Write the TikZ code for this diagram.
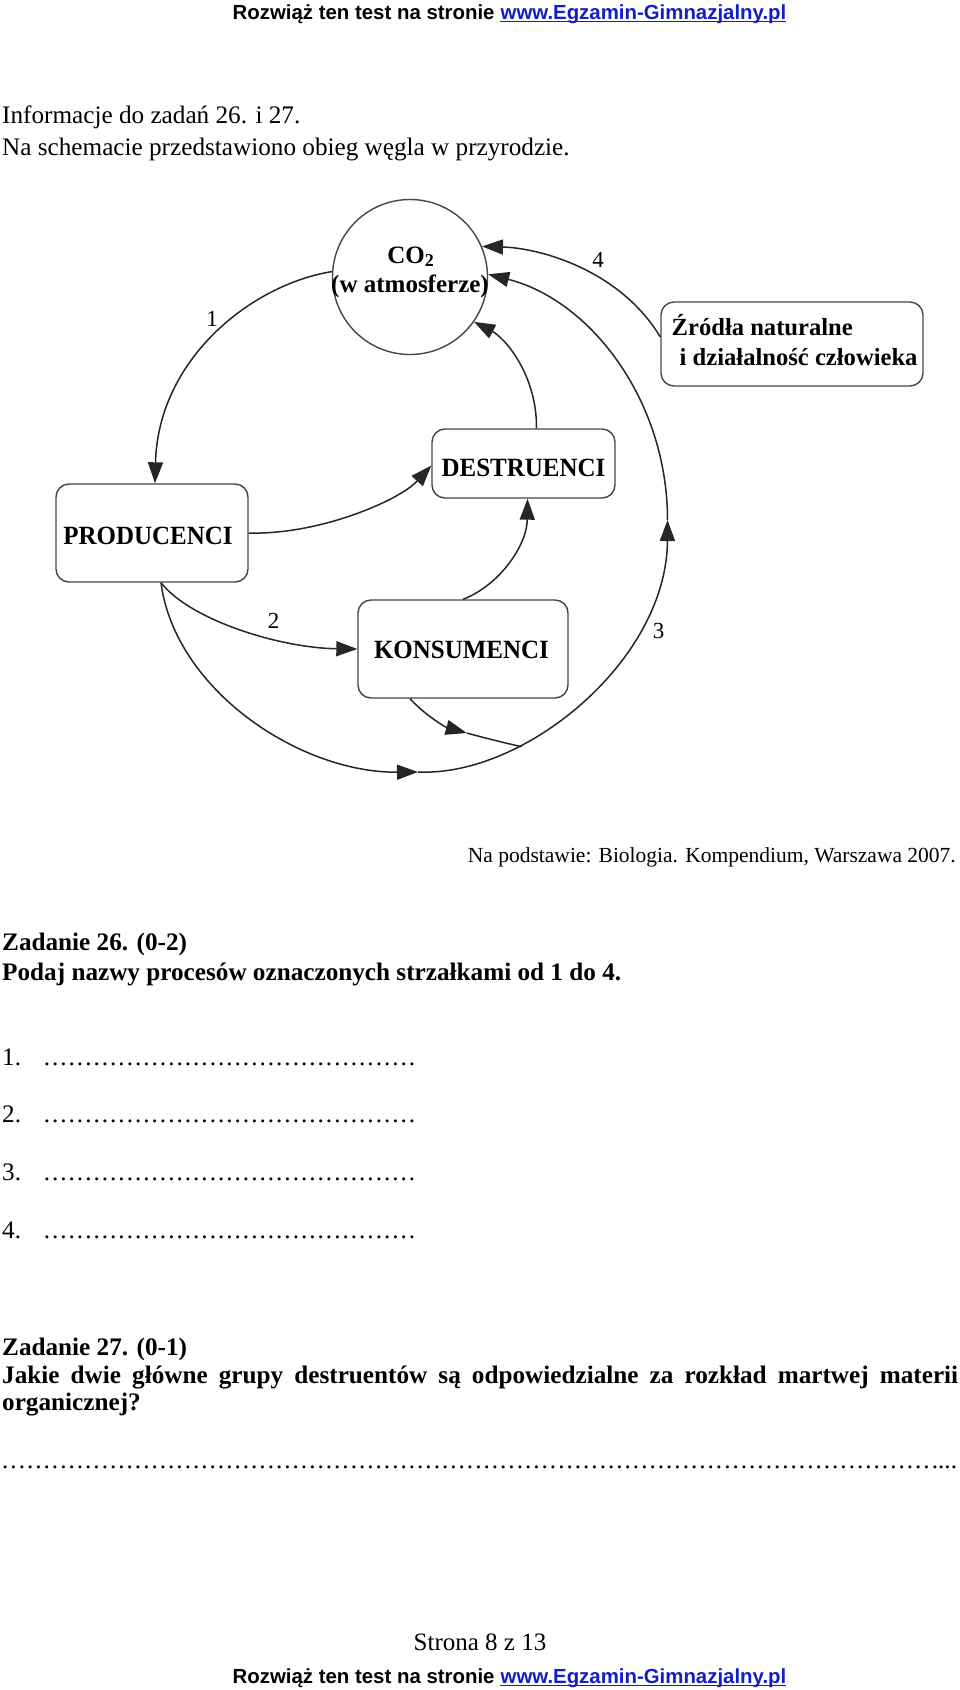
\documentclass[tikz,border=0pt]{standalone}
\usepackage{fontspec}
\setmainfont{Liberation Serif}
\newfontfamily\plainserif{Liberation Serif}
\newfontfamily\boxfont[FakeStretch=0.95]{Liberation Serif}
\newfontfamily\hdrfont{Liberation Sans}
\usetikzlibrary{arrows.meta}
\definecolor{linkblue}{RGB}{20,30,200}
\definecolor{boxgray}{RGB}{70,70,70}
\newcommand{\ansdots}[1]{\hbox to #1{\leaders\hbox to 8.3pt{\hss.}\hfill}}
\tikzset{
  box/.style={draw=boxgray, line width=1.4pt, rounded corners=13pt, inner sep=0pt},
  conn/.style={line width=1.5pt, draw=black!85},
  arr/.style={conn, -{Triangle[length=21pt,width=15pt]}},
  lbl/.style={inner sep=0pt, anchor=base, font=\plainserif\fontsize{23}{23}\selectfont},
  boxtxt/.style={inner sep=0pt, anchor=base, font=\boxfont\bfseries\fontsize{26.3}{26.3}\selectfont},
  body/.style={inner sep=0pt, anchor=base west, font=\fontsize{25.2}{29}\selectfont},
  bbody/.style={inner sep=0pt, anchor=base west, font=\bfseries\fontsize{25.2}{29}\selectfont},
  hdr/.style={inner sep=0pt, anchor=base west, font=\hdrfont\bfseries\fontsize{20.4}{24}\selectfont},
}
\begin{document}
\begin{tikzpicture}[x=1pt,y=-1pt]
\useasboundingbox (0,0) rectangle (960,1690);
\fill[white] (0,0) rectangle (960,1690);

% header
\node[hdr] (hdr1) at (232.5,19) {Rozwiąż ten test na stronie};
\node[hdr, text=linkblue] (hdr2) at ([xshift=5.7pt]hdr1.base east) {www.Egzamin-Gimnazjalny.pl};
\draw[linkblue, line width=1.2pt] ([yshift=-2.5pt]hdr2.base west) -- ([yshift=-2.5pt]hdr2.base east);

% intro
\node[body] (intro1) at (2,123) {Informacje do zadań 26. i 27.};
\node[body] (intro2) at (2,155) {Na schemacie przedstawiono obieg węgla w przyrodzie.};

% diagram
\node[circle, draw=boxgray, line width=1.4pt, minimum size=155pt, inner sep=0pt] (co2) at (410,277) {};
\node[inner sep=0pt, anchor=base, font=\bfseries\fontsize{25}{25}\selectfont] (co2a) at (410.5,263) {CO\raisebox{-3.5pt}{\fontsize{18}{18}\selectfont 2}};
\node[inner sep=0pt, anchor=base, font=\bfseries\fontsize{25}{25}\selectfont] (co2b) at (410,292) {(w atmosferze)};

\node[box, minimum width=262pt, minimum height=84pt] (zr) at (792,344) {};
\node[inner sep=0pt, anchor=base west, font=\bfseries\fontsize{24.6}{24.6}\selectfont] (zr1) at (671.5,335.5) {Źródła naturalne};
\node[inner sep=0pt, anchor=base west, font=\bfseries\fontsize{24.6}{24.6}\selectfont] (zr2) at (679.5,365) {i działalność człowieka};

\node[box, minimum width=183pt, minimum height=69pt] (dest) at (523.5,463.5) {};
\node[boxtxt] (destt) at (523.5,476) {DESTRUENCI};

\node[box, minimum width=192pt, minimum height=98pt] (prod) at (152,533) {};
\node[boxtxt] (prodt) at (148,544) {PRODUCENCI};

\node[box, minimum width=210pt, minimum height=98pt] (kons) at (463,649) {};
\node[boxtxt] (konst) at (461.5,658) {KONSUMENCI};

% connectors
\draw[arr] (co2.176) .. controls (250,285) and (158,360) .. ([xshift=3pt]prod.north);
\draw[arr] (prod.east) .. controls (320,535) and (400,500) .. ([yshift=-2pt]dest.west);
\coordinate (ps) at ([xshift=9pt]prod.south);
\draw[arr] (ps) .. controls (190,620) and (280,648) .. (kons.west);
\coordinate (bot) at (418,772);
\coordinate (rside) at (667.5,520);
\draw[arr] (ps) .. controls (175,690) and (300,773) .. (bot);
\draw[arr] (bot) .. controls (525,777) and (667,660) .. (rside);
\draw[arr] (rside) .. controls (667.5,400) and (590,300) .. (co2.2);
\draw[arr] ([yshift=7pt]zr.west) .. controls (620,270) and (540,248) .. (co2.23);
\draw[arr] ([xshift=13pt]dest.north) .. controls (537,375) and (505,338) .. (co2.-35);
\draw[arr] (kons.north) .. controls (500,585) and (527,545) .. ([xshift=4pt]dest.south);
\coordinate (ks) at ([xshift=-53pt]kons.south);
\coordinate (km) at (466.7,733);
\coordinate (kj) at (521.7,746.7);
\draw[arr] (ks) .. controls (425,715) and (445,727) .. (km);
\draw[conn] (km) .. controls (485,738) and (505,743) .. (kj);

% labels
\node[lbl] (l1) at (212,326) {1};
\node[lbl] (l2) at (273.5,628) {2};
\node[lbl] (l3) at (658.5,638) {3};
\node[lbl] (l4) at (598,267) {4};

\node[inner sep=0pt, anchor=base east, font=\plainserif\fontsize{21.5}{21.5}\selectfont] (src) at (956,862) {Na podstawie: Biologia. Kompendium, Warszawa 2007.};

% task 26
\node[bbody] (z26) at (2,950) {Zadanie 26. (0-2)};
\node[bbody] (q26) at (2,980) {Podaj nazwy procesów oznaczonych strzałkami od 1 do 4.};
\node[body] (a1) at (2,1065) {\makebox[39.6pt][l]{1.}\ansdots{374pt}};
\node[body] (a2) at (2,1122) {\makebox[39.6pt][l]{2.}\ansdots{374pt}};
\node[body] (a3) at (2,1180) {\makebox[39.6pt][l]{3.}\ansdots{374pt}};
\node[body] (a4) at (2,1238) {\makebox[39.6pt][l]{4.}\ansdots{374pt}};

% task 27
\node[bbody] (z27) at (2,1355) {Zadanie 27. (0-1)};
\node[bbody] (q27a) at (2,1383) {\makebox[956pt][s]{Jakie dwie główne grupy destruentów są odpowiedzialne za rozkład martwej materii}};
\node[bbody] (q27b) at (2,1410) {organicznej?};
\node[body] (a27) at (0,1468) {\ansdots{938pt}...};

% footer
\node[inner sep=0pt, anchor=base, font=\fontsize{25}{25}\selectfont] (page) at (480,1650) {Strona 8 z 13};
\node[hdr] (ftr1) at (232.5,1683) {Rozwiąż ten test na stronie};
\node[hdr, text=linkblue] (ftr2) at ([xshift=5.7pt]ftr1.base east) {www.Egzamin-Gimnazjalny.pl};
\draw[linkblue, line width=1.2pt] ([yshift=-2.5pt]ftr2.base west) -- ([yshift=-2.5pt]ftr2.base east);
\end{tikzpicture}
\end{document}
